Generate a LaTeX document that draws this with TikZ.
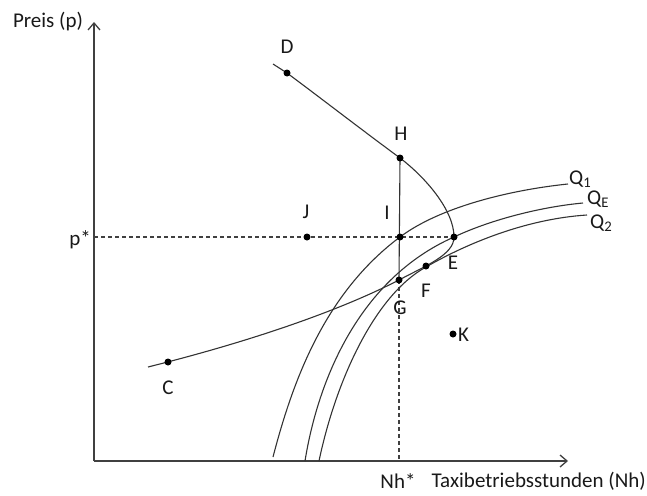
\documentclass[tikz,border=0pt]{standalone}
\usepackage{fontspec}
\setmainfont{Carlito}
\usetikzlibrary{arrows.meta}
\begin{document}
\begin{tikzpicture}[x=1pt,y=-1pt,
  axisline/.style={draw=black!75, line width=1.3pt},
  curveline/.style={draw=black!80, line width=1.1pt},
  dashline/.style={draw=black!75, line width=1.1pt, dash pattern=on 4pt off 3pt},
  lbl/.style={font=\fontsize{21}{24}\selectfont, text=black!90, inner sep=0pt},
  dotmark/.style={fill=black}
]
\useasboundingbox (0,0) rectangle (647,495);
% coordinates
\coordinate (O) at (94,461);
\coordinate (Ytip) at (94,22);
\coordinate (Xtip) at (568,461);
\coordinate (Pstar) at (94,237);
\coordinate (D) at (287,73);
\coordinate (Dstart) at (273,64);
\coordinate (H) at (400,158);
\coordinate (I) at (400,237);
\coordinate (J) at (307,237);
\coordinate (E) at (454,237);
\coordinate (F) at (426,266);
\coordinate (G) at (399,280);
\coordinate (K) at (453,334);
\coordinate (C) at (168,362);
\coordinate (Cstart) at (148,367);
\coordinate (Gbase) at (399,461);
\coordinate (Q1start) at (273,457);
\coordinate (QEstart) at (305,461);
\coordinate (Q2start) at (319,461);
\coordinate (Q1end) at (568,184);
\coordinate (QEend) at (583,203);
\coordinate (Q2end) at (587,215);
\coordinate (Q2tan) at (426,267);
% axes
\draw[axisline, -{Straight Barb[length=7pt,width=12pt]}] (O) -- (Ytip);
\draw[axisline, -{Straight Barb[length=7pt,width=12pt]}] (O) -- (Xtip);
% dashed lines
\draw[dashline] (Pstar) -- (E);
\draw[dashline] (G) -- (Gbase);
% vertical H-G
\draw[curveline] (H) -- (G);
% supply curve (backward bending)
\draw[curveline] (Cstart) .. controls (250,341.5) and (339,311) .. (G)
  .. controls (425,266) and (454,255) .. (E)
  .. controls (454,210) and (425,177) .. (H)
  .. controls (358,127) and (318,96) .. (D) -- (Dstart);
% Q curves
\draw[curveline] (Q1start) .. controls (293,380) and (325,293) .. (I)
  .. controls (440,207) and (510,190) .. (Q1end);
\draw[curveline] (QEstart) .. controls (318,380) and (359,279) .. (E)
  .. controls (490,220) and (540,207) .. (QEend);
\draw[curveline] (Q2start) .. controls (336,380) and (375,295) .. (Q2tan)
  .. controls (466,244) and (525,219) .. (Q2end);
% dots
\foreach \p in {D,H,I,J,E,F,G,K,C} \fill[dotmark] (\p) circle (3.5pt);
% labels
\node[lbl] (lPreis) at (48,22) {Preis (p)};
\node[lbl, anchor=east] (lPstar) at (91,240) {p*};
\node[lbl] (lD) at (287,47) {D};
\node[lbl] (lH) at (401,134) {H};
\node[lbl] (lI) at (387,213) {I};
\node[lbl] (lJ) at (306,212) {J};
\node[lbl] (lE) at (453,263) {E};
\node[lbl] (lF) at (426,291) {F};
\node[lbl] (lG) at (400,308) {G};
\node[lbl, anchor=west] (lK) at (458,335) {K};
\node[lbl] (lC) at (168,388) {C};
\node[lbl, anchor=west] (lQ1) at (569,179) {Q\textsubscript{1}};
\node[lbl, anchor=west] (lQE) at (587,199) {Q\textsubscript{E}};
\node[lbl, anchor=west] (lQ2) at (590,223) {Q\textsubscript{2}};
\node[lbl] (lNh) at (398,481) {Nh*};
\node[lbl, anchor=east] (lTaxi) at (646,481) {Taxibetriebsstunden (Nh)};
\end{tikzpicture}
\end{document}
